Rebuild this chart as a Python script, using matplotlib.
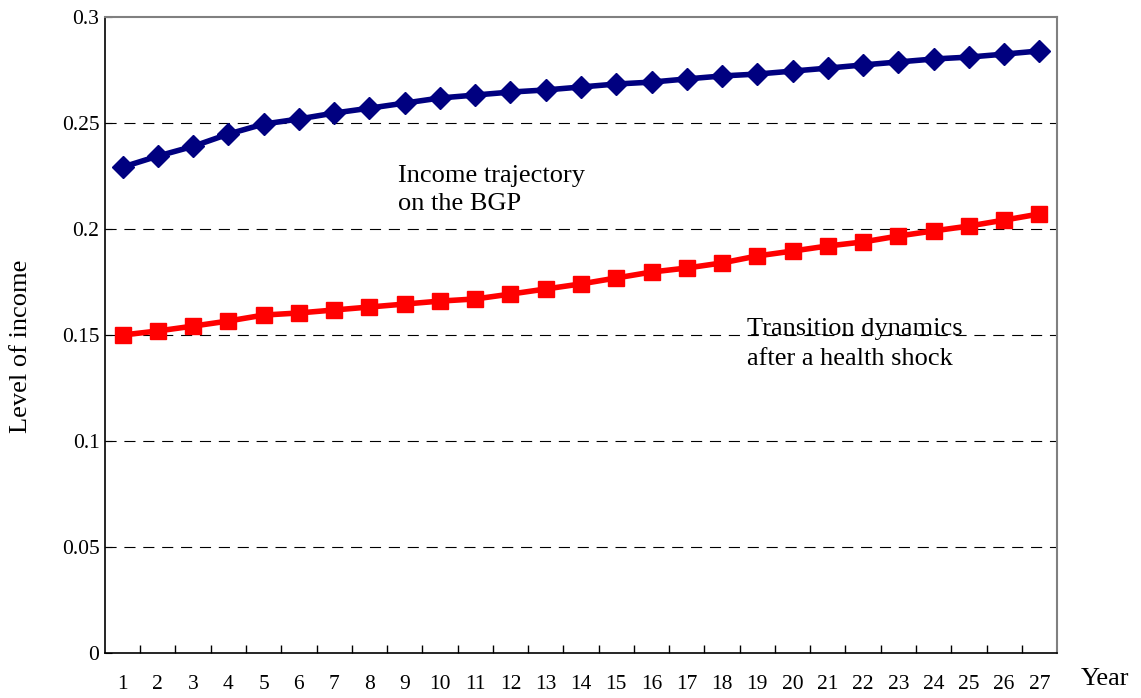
import matplotlib.pyplot as plt
import numpy as np

plt.rcParams['font.family'] = ['Liberation Serif', 'DejaVu Serif']

years = list(range(1, 28))
bgp = [0.2292, 0.2344, 0.2390, 0.2448, 0.2495, 0.2519, 0.2547, 0.2570, 0.2594,
       0.2618, 0.2632, 0.2646, 0.2656, 0.2670, 0.2684, 0.2693, 0.2708, 0.2722,
       0.2731, 0.2745, 0.2759, 0.2774, 0.2788, 0.2802, 0.2811, 0.2825, 0.2840]
shock = [0.1500, 0.1519, 0.1542, 0.1566, 0.1594, 0.1604, 0.1618, 0.1632, 0.1646,
         0.1660, 0.1670, 0.1693, 0.1717, 0.1741, 0.1769, 0.1797, 0.1816, 0.1840,
         0.1873, 0.1896, 0.1920, 0.1939, 0.1967, 0.1991, 0.2014, 0.2042, 0.2071]
yticks = [0, 0.05, 0.1, 0.15, 0.2, 0.25, 0.3]
ytick_labels = ['0', '0.05', '0.1', '0.15', '0.2', '0.25', '0.3']

fig = plt.figure(figsize=(11.41, 6.98), dpi=100)
ax = fig.add_axes([0.092, 0.0645, 0.8344, 0.9111])

for y in yticks[1:-1]:
    ax.axhline(y, color='black', linestyle=(0, (10, 7)), linewidth=0.8, zorder=1)

ax.plot(years, bgp, '-', color='#000080', linewidth=4, marker='D',
        markersize=11, zorder=3)
ax.plot(years, shock, '-', color='#FF0000', linewidth=4, marker='s',
        markersize=12, zorder=3)

ax.set_xlim(0.5, 27.5)
ax.set_ylim(0, 0.3)
ax.set_yticks(yticks)
ax.set_yticklabels(ytick_labels)
ax.set_xticks(years)
ax.set_xticklabels([str(y) for y in years])
ax.set_xticks(np.arange(1.5, 27, 1.0), minor=True)
ax.tick_params(axis='x', which='major', length=0, pad=16, labelsize=15.5)
ax.tick_params(axis='x', which='minor', direction='in', length=6, width=1)
ax.tick_params(axis='y', direction='in', length=5, labelsize=15.5, pad=4)

ax.spines['left'].set_color('black')
ax.spines['bottom'].set_color('black')
ax.spines['left'].set_linewidth(1.2)
ax.spines['bottom'].set_linewidth(1.2)
ax.spines['top'].set_color('#808080')
ax.spines['right'].set_color('#808080')
ax.spines['top'].set_linewidth(1.5)
ax.spines['right'].set_linewidth(1.5)

ax.set_ylabel('Level of income', fontsize=19)
ax.yaxis.set_label_coords(-0.077, 0.483)
fig.text(0.9685, 0.027, 'Year', fontsize=19, ha='center', va='center')

ax.text(8.81, 0.2185, 'Income trajectory\non the BGP', fontsize=19,
        ha='left', va='center', linespacing=1.35)
ax.text(18.71, 0.1458, 'Transition dynamics\nafter a health shock', fontsize=19,
        ha='left', va='center', linespacing=1.45)

plt.savefig('out.png', dpi=100)
